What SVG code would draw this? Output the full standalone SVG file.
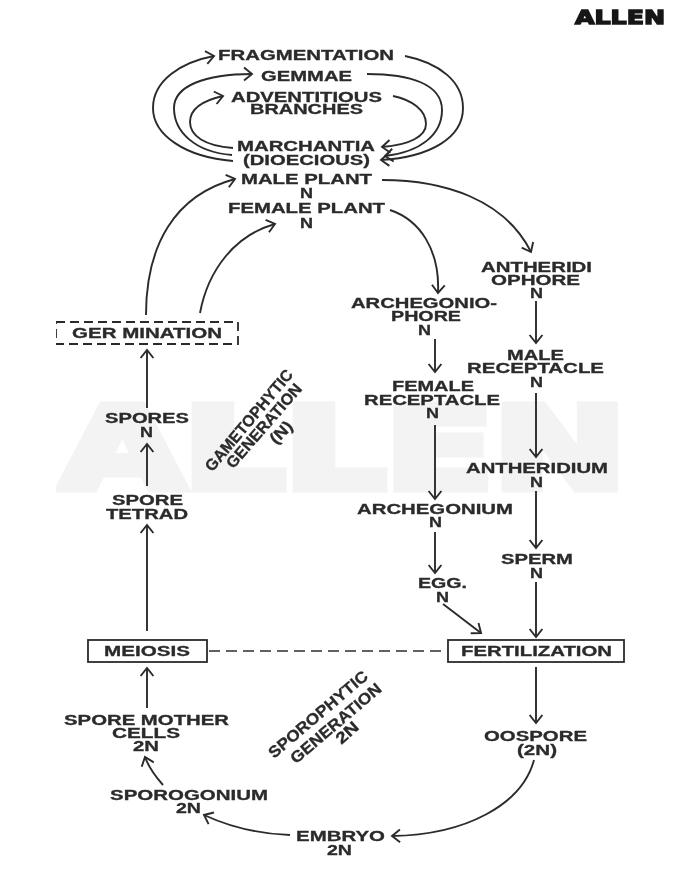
<svg xmlns="http://www.w3.org/2000/svg" width="675" height="895" viewBox="0 0 675 895">
<style>
text{font-family:"Liberation Sans",Arial,sans-serif;font-weight:700;font-size:14.5px;fill:#2b2b2b;stroke:#2b2b2b;stroke-width:.3}
.r{font-size:16px}
text.wm{font-family:"DejaVu Sans",sans-serif;font-size:112px;fill:#f3f3f3;stroke:#f3f3f3;stroke-width:9;stroke-linejoin:miter}
text.logo{font-family:"DejaVu Sans",sans-serif;font-size:19px;fill:#151515;stroke:#151515;stroke-width:1.4}
.c{fill:none;stroke:#2b2b2b;stroke-width:1.9;marker-end:url(#a)}
.box{fill:#fff;stroke:#2b2b2b;stroke-width:1.8}
.dash{stroke-dasharray:9 5}
</style>
<defs>
<marker id="a" markerUnits="userSpaceOnUse" markerWidth="18" markerHeight="18" refX="13" refY="9" orient="auto">
<path d="M5 2.6L13 9L5 15.4" fill="none" stroke="#2b2b2b" stroke-width="1.9"/>
</marker>
<filter id="soft" x="0" y="0" width="100%" height="100%"><feGaussianBlur stdDeviation="0.4"/></filter>
</defs>
<rect width="675" height="895" fill="#fff"/>
<g filter="url(#soft)">
<text id="watermark" class="wm" x="61" y="488" textLength="565" lengthAdjust="spacingAndGlyphs">ALLEN</text>
<text id="logo" class="logo" x="575" y="24" textLength="90" lengthAdjust="spacingAndGlyphs">ALLEN</text>
<g id="connectors">
<path class="c" d="M233 161C185 157 153 135 153 108C153 80 182 62 214 56"/>
<path class="c" d="M405 56C440 63 463 82 463 108C463 138 430 157 381 160"/>
<path class="c" d="M232 155C195 152 174 132 174 108C174 86 205 74 252 74"/>
<path class="c" d="M367 74C410 74 442 84 442 110C442 135 420 152 385 156"/>
<path class="c" d="M233 148C205 146 190 136 190 122C190 108 205 100 223 96"/>
<path class="c" d="M393 96C412 100 426 110 426 124C426 136 410 145 382 147"/>
<path class="c" d="M146 315C146 245 175 195 235 179"/>
<path class="c" d="M382 180C445 180 505 200 531 252"/>
<path class="c" d="M200 313C208 270 235 235 275 224"/>
<path class="c" d="M390 210C420 220 440 250 438 293"/>
<path class="c" d="M147 408V350"/>
<path class="c" d="M147 486V444"/>
<path class="c" d="M147 631V525"/>
<path class="c" d="M147 708V668"/>
<path class="c" d="M163 785C155 776 149 768 145 757"/>
<path class="c" d="M290 835C260 834 230 827 204 815"/>
<path class="c" d="M534 760C522 805 465 835 392 836"/>
<path class="c" d="M536 667V723"/>
<path class="c" d="M536 582V637"/>
<path class="c" d="M443 604L481 633"/>
<path class="c" d="M536 491V548"/>
<path class="c" d="M536 393V457"/>
<path class="c" d="M536 301V343"/>
<path class="c" d="M435 339V372"/>
<path class="c" d="M435 425V499"/>
<path class="c" d="M435 532V573"/>
<path d="M209 651H447" fill="none" stroke="#2b2b2b" stroke-width="1.6" stroke-dasharray="11 6"/>
</g>
<g id="fragmentation"><text x="218" y="60" textLength="176" lengthAdjust="spacingAndGlyphs">FRAGMENTATION</text></g>
<g id="gemmae"><text x="261" y="81" textLength="91" lengthAdjust="spacingAndGlyphs">GEMMAE</text></g>
<g id="adventitious"><text x="231" y="102" textLength="151" lengthAdjust="spacingAndGlyphs">ADVENTITIOUS</text><text x="250" y="114" textLength="113" lengthAdjust="spacingAndGlyphs">BRANCHES</text></g>
<g id="marchantia"><text x="237" y="151" textLength="138" lengthAdjust="spacingAndGlyphs">MARCHANTIA</text><text x="243" y="165" textLength="127" lengthAdjust="spacingAndGlyphs">(DIOECIOUS)</text></g>
<g id="male-plant"><text x="241" y="184" textLength="131" lengthAdjust="spacingAndGlyphs">MALE PLANT</text><text x="300" y="198" textLength="13" lengthAdjust="spacingAndGlyphs">N</text></g>
<g id="female-plant"><text x="228" y="213" textLength="157" lengthAdjust="spacingAndGlyphs">FEMALE PLANT</text><text x="300" y="228" textLength="13" lengthAdjust="spacingAndGlyphs">N</text></g>
<g id="antheridiophore"><text x="481" y="272" textLength="111" lengthAdjust="spacingAndGlyphs">ANTHERIDI</text><text x="491" y="285" textLength="89" lengthAdjust="spacingAndGlyphs">OPHORE</text><text x="530" y="298" textLength="13" lengthAdjust="spacingAndGlyphs">N</text></g>
<g id="archegoniophore"><text x="351" y="308" textLength="146" lengthAdjust="spacingAndGlyphs">ARCHEGONIO-</text><text x="391" y="321" textLength="70" lengthAdjust="spacingAndGlyphs">PHORE</text><text x="418" y="335" textLength="13" lengthAdjust="spacingAndGlyphs">N</text></g>
<g id="germination"><rect class="box dash" x="56" y="322" width="182" height="22"/><text x="72" y="338" textLength="150" lengthAdjust="spacingAndGlyphs">GER MINATION</text></g>
<g id="male-receptacle"><text x="507" y="360" textLength="57" lengthAdjust="spacingAndGlyphs">MALE</text><text x="467" y="373" textLength="137" lengthAdjust="spacingAndGlyphs">RECEPTACLE</text><text x="530" y="387" textLength="13" lengthAdjust="spacingAndGlyphs">N</text></g>
<g id="female-receptacle"><text x="392" y="391" textLength="82" lengthAdjust="spacingAndGlyphs">FEMALE</text><text x="364" y="405" textLength="136" lengthAdjust="spacingAndGlyphs">RECEPTACLE</text><text x="426" y="418" textLength="13" lengthAdjust="spacingAndGlyphs">N</text></g>
<g id="spores"><text x="105" y="423" textLength="84" lengthAdjust="spacingAndGlyphs">SPORES</text><text x="140" y="437" textLength="13" lengthAdjust="spacingAndGlyphs">N</text></g>
<g id="gametophytic-label"><text class="r" transform="translate(212.3 472.4) rotate(-50)" textLength="127" lengthAdjust="spacingAndGlyphs">GAMETOPHYTIC</text><text class="r" transform="translate(233.3 469.4) rotate(-49)" textLength="106" lengthAdjust="spacingAndGlyphs">GENERATION</text><text class="r" transform="translate(276 445) rotate(-45)" textLength="25" lengthAdjust="spacingAndGlyphs">(N)</text></g>
<g id="antheridium"><text x="466" y="473" textLength="142" lengthAdjust="spacingAndGlyphs">ANTHERIDIUM</text><text x="530" y="487" textLength="13" lengthAdjust="spacingAndGlyphs">N</text></g>
<g id="spore-tetrad"><text x="112" y="505" textLength="71" lengthAdjust="spacingAndGlyphs">SPORE</text><text x="106" y="519" textLength="82" lengthAdjust="spacingAndGlyphs">TETRAD</text></g>
<g id="archegonium"><text x="357" y="514" textLength="156" lengthAdjust="spacingAndGlyphs">ARCHEGONIUM</text><text x="429" y="527" textLength="13" lengthAdjust="spacingAndGlyphs">N</text></g>
<g id="sperm"><text x="501" y="564" textLength="72" lengthAdjust="spacingAndGlyphs">SPERM</text><text x="530" y="578" textLength="13" lengthAdjust="spacingAndGlyphs">N</text></g>
<g id="egg"><text x="418" y="588" textLength="49" lengthAdjust="spacingAndGlyphs">EGG.</text><text x="436" y="602" textLength="13" lengthAdjust="spacingAndGlyphs">N</text></g>
<g id="meiosis"><rect class="box" x="88" y="640" width="119" height="22"/><text x="104" y="656" textLength="86" lengthAdjust="spacingAndGlyphs">MEIOSIS</text></g>
<g id="fertilization"><rect class="box" x="448" y="640" width="176" height="22"/><text x="461" y="656" textLength="151" lengthAdjust="spacingAndGlyphs">FERTILIZATION</text></g>
<g id="sporophytic-label"><text class="r" transform="translate(274 759) rotate(-40.4)" textLength="125" lengthAdjust="spacingAndGlyphs">SPOROPHYTIC</text><text class="r" transform="translate(296 764.4) rotate(-40.4)" textLength="114" lengthAdjust="spacingAndGlyphs">GENERATION</text><text class="r" transform="translate(341.4 745) rotate(-42)" textLength="25" lengthAdjust="spacingAndGlyphs">2N</text></g>
<g id="spore-mother-cells"><text x="64" y="725" textLength="165" lengthAdjust="spacingAndGlyphs">SPORE MOTHER</text><text x="112" y="738" textLength="68" lengthAdjust="spacingAndGlyphs">CELLS</text><text x="133" y="751" textLength="26" lengthAdjust="spacingAndGlyphs">2N</text></g>
<g id="oospore"><text x="484" y="741" textLength="103" lengthAdjust="spacingAndGlyphs">OOSPORE</text><text x="517" y="755" textLength="40" lengthAdjust="spacingAndGlyphs">(2N)</text></g>
<g id="sporogonium"><text x="110" y="800" textLength="158" lengthAdjust="spacingAndGlyphs">SPOROGONIUM</text><text x="176" y="813" textLength="25" lengthAdjust="spacingAndGlyphs">2N</text></g>
<g id="embryo"><text x="296" y="841" textLength="89" lengthAdjust="spacingAndGlyphs">EMBRYO</text><text x="327" y="855" textLength="25" lengthAdjust="spacingAndGlyphs">2N</text></g>
</g>
</svg>
